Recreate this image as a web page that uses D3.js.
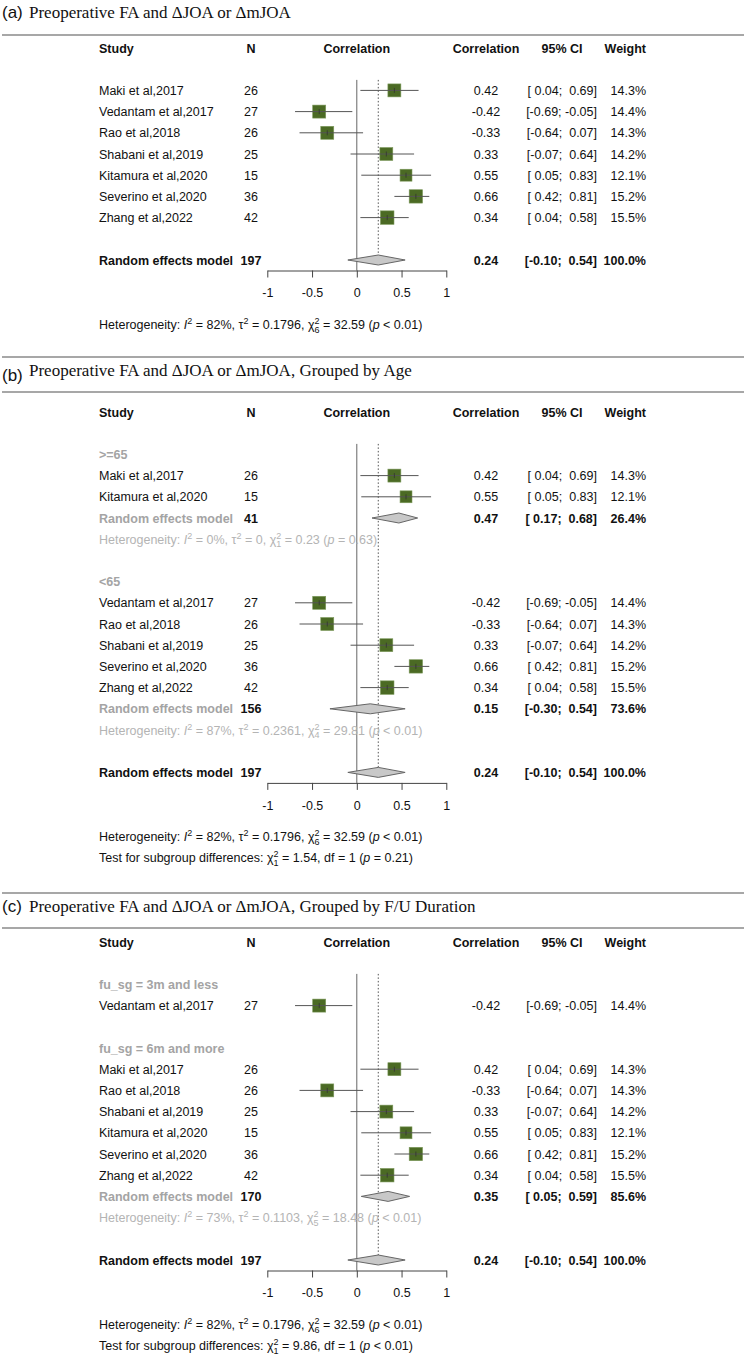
<!DOCTYPE html>
<html><head><meta charset="utf-8">
<script src="https://cdn.jsdelivr.net/npm/d3@7"></script>
<style>
body{margin:0;background:#fff}
text{font-family:"Liberation Sans",Arial,sans-serif;white-space:pre}
</style>
</head><body>
<svg id="chart" width="746" height="1356"></svg>
<script>
// ---------------- DATA ----------------
const studies = ["Maki et al,2017","Vedantam et al,2017","Rao et al,2018","Shabani et al,2019","Kitamura et al,2020","Severino et al,2020","Zhang et al,2022"];
const sampleN = [26,27,26,25,15,36,42];
const corr    = [0.42,-0.42,-0.33,0.33,0.55,0.66,0.34];
const ciLow   = [0.04,-0.69,-0.64,-0.07,0.05,0.42,0.04];
const ciHigh  = [0.69,-0.05,0.07,0.64,0.83,0.81,0.58];
const weight  = [14.3,14.4,14.3,14.2,12.1,15.2,15.5];

const ageGroup = [">=65","<65","<65","<65",">=65","<65","<65"];
const ageLevels = [">=65","<65"];
const fuGroup = ["fu_sg = 6m and more","fu_sg = 3m and less","fu_sg = 6m and more","fu_sg = 6m and more","fu_sg = 6m and more","fu_sg = 6m and more","fu_sg = 6m and more"];
const fuLevels = ["fu_sg = 3m and less","fu_sg = 6m and more"];

const ageSubN = [41,156];
const ageSubCorr = [0.47,0.15];
const ageSubLow = [0.17,-0.30];
const ageSubHigh = [0.68,0.54];
const ageSubWeight = [26.4,73.6];
const ageSubI2 = ["0","87"];
const ageSubTau2 = ["0","0.2361"];
const ageSubQ = ["0.23","29.81"];
const ageSubP = ["= 0.63","< 0.01"];

const fuSubN = [27,170];
const fuSubCorr = [null,0.35];
const fuSubLow = [null,0.05];
const fuSubHigh = [null,0.59];
const fuSubWeight = [null,85.6];
const fuSubI2 = [null,"73"];
const fuSubTau2 = [null,"0.1103"];
const fuSubQ = [null,"18.48"];
const fuSubP = [null,"< 0.01"];

const overallN = 197, overallCorr = 0.24, overallLow = -0.10, overallHigh = 0.54, overallWeight = 100.0;
const overallI2 = "82", overallTau2 = "0.1796", overallDf = 6, overallQ = "32.59", overallP = "< 0.01";
const testQ = ["1.54","9.86"];
const testP = ["= 0.21","< 0.01"];

const panelTitles = ["Preoperative FA and \u0394JOA or \u0394mJOA",
                     "Preoperative FA and \u0394JOA or \u0394mJOA, Grouped by Age",
                     "Preoperative FA and \u0394JOA or \u0394mJOA, Grouped by F/U Duration"];
const panelLetters = ["(a)","(b)","(c)"];
const axisTicks = [-1,-0.5,0,0.5,1];

// ---------------- LAYOUT ----------------
const svg = d3.select("#chart");
svg.append("rect").attr("width",746).attr("height",1356).attr("fill","#fff");
const x = d3.scaleLinear().domain([-1,1]).range([267.3,446.3]);
const STEP = 21.2, FS = "12.5px";
const colStudy = 99, colN = 251, colCorr = 486, colCI = 597, colW = 646;
const TXT = "#111", GRAY = "#a4a4a4", GRAYHET = "#b4b4b4";

function f2(v){ return v.toFixed(2); }
function pad(v){ return (v<0? "" : " ") + v.toFixed(2); }
function ciStr(lo,hi){ return "[" + pad(lo) + "; " + pad(hi) + "]"; }
function wStr(w){ return w.toFixed(1) + "%"; }

function txt(g,xp,y,s,opt={}){
  return g.append("text").attr("x",xp).attr("y",y+4.5)
    .attr("text-anchor",opt.anchor||"start")
    .attr("fill",opt.fill||TXT)
    .style("font-size",opt.size||FS)
    .style("font-weight",opt.bold?"bold":"normal")
    .text(s);
}

function hetText(g, xp, y, I2, tau2, df, Q, p, fill){
  const t = g.append("text").attr("x",xp).attr("y",y+4.5).attr("fill",fill).style("font-size",FS);
  t.append("tspan").text("Heterogeneity: ");
  t.append("tspan").style("font-style","italic").text("I");
  t.append("tspan").attr("dy",-5).style("font-size","9px").text("2");
  t.append("tspan").attr("dy",5).text(" = " + I2 + "%, \u03c4");
  t.append("tspan").attr("dy",-5).style("font-size","9px").text("2");
  t.append("tspan").attr("dy",5).text(" = " + tau2 + ", \u03c7");
  t.append("tspan").attr("dy",-5).style("font-size","9px").text("2");
  t.append("tspan").attr("dx",-5).attr("dy",8.5).style("font-size","9px").text(String(df));
  t.append("tspan").attr("dy",-3.5).text(" = " + Q + " (");
  t.append("tspan").style("font-style","italic").text("p");
  t.append("tspan").text(" " + p + ")");
}
function testText(g, xp, y, Q, p){
  const t = g.append("text").attr("x",xp).attr("y",y+4.5).attr("fill",TXT).style("font-size",FS);
  t.append("tspan").text("Test for subgroup differences: \u03c7");
  t.append("tspan").attr("dy",-5).style("font-size","9px").text("2");
  t.append("tspan").attr("dx",-5).attr("dy",8.5).style("font-size","9px").text("1");
  t.append("tspan").attr("dy",-3.5).text(" = " + Q + ", df = 1 (");
  t.append("tspan").style("font-style","italic").text("p");
  t.append("tspan").text(" " + p + ")");
}

function buildRows(groupVar, levels){
  const rows = [{t:"blank"}];
  if(!groupVar){
    studies.forEach((s,i)=>rows.push({t:"study",i}));
    rows.push({t:"blank"});
  } else {
    levels.forEach((lv,g)=>{
      rows.push({t:"label",text:lv});
      const idx = studies.map((s,i)=>i).filter(i=>groupVar[i]===lv);
      idx.forEach(i=>rows.push({t:"study",i}));
      if(idx.length>1){ rows.push({t:"sub",g}); rows.push({t:"subhet",g,k:idx.length}); }
      rows.push({t:"blank"});
    });
  }
  rows.push({t:"overall"});
  return rows;
}

function diamond(g, lo, est, hi, y){
  g.append("path")
    .attr("d", d3.line()([[x(lo),y],[x(est),y-5],[x(hi),y],[x(est),y+5]]) + "Z")
    .attr("fill","#c8c8c8").attr("stroke","#666").attr("stroke-width",1);
}

const panels = [
  {rows: buildRows(null,null), header:48, lines:[35], letterY:17.5, titleY:17.5, test:null},
  {rows: buildRows(ageGroup,ageLevels), header:412, lines:[357,392], letterY:381, titleY:375.5, test:0,
   sub:{n:ageSubN,c:ageSubCorr,lo:ageSubLow,hi:ageSubHigh,w:ageSubWeight,i2:ageSubI2,tau:ageSubTau2,q:ageSubQ,p:ageSubP}},
  {rows: buildRows(fuGroup,fuLevels), header:942, lines:[893,928], letterY:911.5, titleY:911.5, test:1,
   sub:{n:fuSubN,c:fuSubCorr,lo:fuSubLow,hi:fuSubHigh,w:fuSubWeight,i2:fuSubI2,tau:fuSubTau2,q:fuSubQ,p:fuSubP}}
];

panels.forEach((P,pi)=>{
  const g = svg.append("g");
  // separators
  P.lines.forEach(ly=>g.append("line").attr("x1",2).attr("x2",744).attr("y1",ly).attr("y2",ly)
    .attr("stroke","#8a8a8a").attr("stroke-width",1.5));
  // title
  g.append("text").attr("x",2).attr("y",P.letterY).attr("fill",TXT)
    .style("font-size","17px").text(panelLetters[pi]);
  g.append("text").attr("x",29).attr("y",P.titleY).attr("fill",TXT)
    .style("font-family","'Liberation Serif','Times New Roman',serif").style("font-size","17px")
    .text(panelTitles[pi]);
  // header
  const hy = P.header;
  txt(g,colStudy,hy,"Study",{bold:true});
  txt(g,colN,hy,"N",{bold:true,anchor:"middle"});
  txt(g,x(0),hy,"Correlation",{bold:true,anchor:"middle"});
  txt(g,colCorr,hy,"Correlation",{bold:true,anchor:"middle"});
  txt(g,562,hy,"95% CI",{bold:true,anchor:"middle"});
  txt(g,colW,hy,"Weight",{bold:true,anchor:"end"});

  const rowY = j => hy + (j+1)*STEP;
  const nRows = P.rows.length;
  const yOverall = rowY(nRows-1);
  const axisY = yOverall + 10.5;
  const topY = rowY(1) - 10.5;

  // reference lines
  g.append("line").attr("x1",x(0)).attr("x2",x(0)).attr("y1",topY).attr("y2",axisY)
    .attr("stroke","#666").attr("stroke-width",1);
  g.append("line").attr("x1",x(overallCorr)).attr("x2",x(overallCorr)).attr("y1",topY).attr("y2",yOverall-5)
    .attr("stroke","#555").attr("stroke-width",1).attr("stroke-dasharray","1.5,2");

  P.rows.forEach((r,j)=>{
    const y = rowY(j);
    if(r.t==="label"){
      txt(g,colStudy,y,r.text,{bold:true,fill:GRAY});
    } else if(r.t==="study"){
      const i = r.i;
      txt(g,colStudy,y,studies[i]);
      txt(g,colN,y,String(sampleN[i]),{anchor:"middle"});
      const s = 13.5*Math.sqrt(weight[i]/15.5);
      g.append("rect").attr("x",x(corr[i])-s/2).attr("y",y-s/2).attr("width",s).attr("height",s)
        .attr("fill","#4b6a24").attr("stroke","#7d9a5c").attr("stroke-width",0.6);
      g.append("line").attr("x1",x(ciLow[i])).attr("x2",x(ciHigh[i])).attr("y1",y).attr("y2",y)
        .attr("stroke","#555").attr("stroke-width",1);
      g.append("line").attr("x1",x(corr[i])).attr("x2",x(corr[i])).attr("y1",y-2.5).attr("y2",y+2.5)
        .attr("stroke","#333").attr("stroke-width",0.8);
      txt(g,colCorr,y,f2(corr[i]),{anchor:"middle"});
      txt(g,colCI,y,ciStr(ciLow[i],ciHigh[i]),{anchor:"end"});
      txt(g,colW,y,wStr(weight[i]),{anchor:"end"});
    } else if(r.t==="sub"){
      const S = P.sub, k = r.g;
      txt(g,colStudy,y,"Random effects model",{bold:true,fill:GRAY});
      txt(g,colN,y,String(S.n[k]),{bold:true,anchor:"middle"});
      diamond(g,S.lo[k],S.c[k],S.hi[k],y);
      txt(g,colCorr,y,f2(S.c[k]),{bold:true,anchor:"middle"});
      txt(g,colCI,y,ciStr(S.lo[k],S.hi[k]),{bold:true,anchor:"end"});
      txt(g,colW,y,wStr(S.w[k]),{bold:true,anchor:"end"});
    } else if(r.t==="subhet"){
      const S = P.sub, k = r.g;
      hetText(g,colStudy,y,S.i2[k],S.tau[k],r.k-1,S.q[k],S.p[k],GRAYHET);
    } else if(r.t==="overall"){
      txt(g,colStudy,y,"Random effects model",{bold:true});
      txt(g,colN,y,String(overallN),{bold:true,anchor:"middle"});
      diamond(g,overallLow,overallCorr,overallHigh,y);
      txt(g,colCorr,y,f2(overallCorr),{bold:true,anchor:"middle"});
      txt(g,colCI,y,ciStr(overallLow,overallHigh),{bold:true,anchor:"end"});
      txt(g,colW,y,wStr(overallWeight),{bold:true,anchor:"end"});
    }
  });

  // axis
  const ax = g.append("g").attr("transform",`translate(0,${axisY})`)
    .call(d3.axisBottom(x).tickValues(axisTicks).tickSize(7).tickSizeOuter(0).tickPadding(11)
      .tickFormat(d=>String(d)));
  ax.select(".domain").attr("stroke","#444");
  ax.selectAll(".tick line").attr("stroke","#444");
  ax.selectAll(".tick text").attr("fill",TXT).style("font-size",FS)
    .attr("font-family","'Liberation Sans',Arial,sans-serif");

  hetText(g,colStudy,axisY+54-4.5+4.5-0,overallI2,overallTau2,overallDf,overallQ,overallP,TXT);
  if(P.test!==null) testText(g,colStudy,axisY+75,testQ[P.test],testP[P.test]);
});
</script>
</body></html>
